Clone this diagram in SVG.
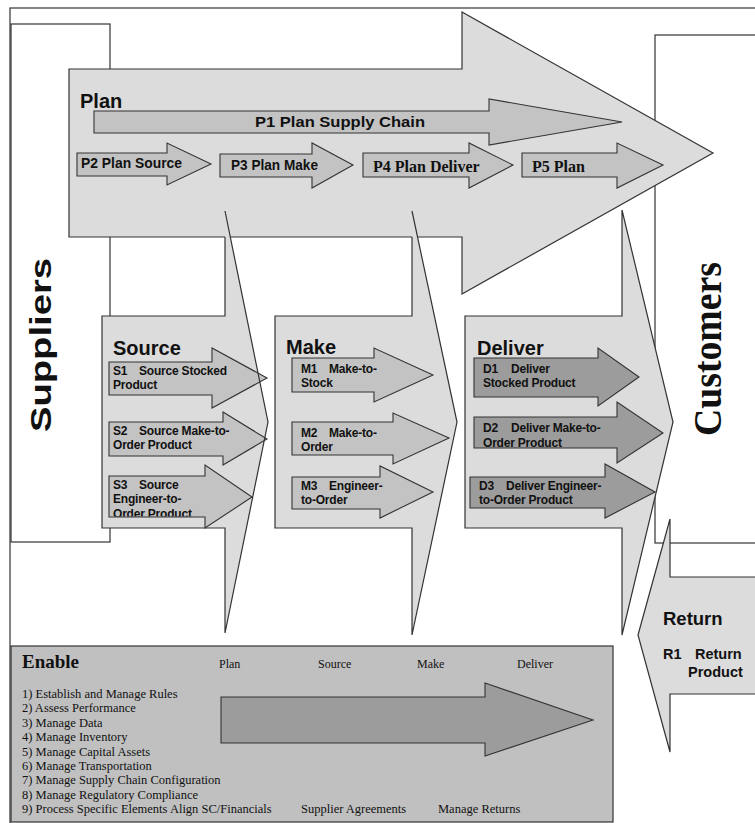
<svg xmlns="http://www.w3.org/2000/svg" width="755" height="823" viewBox="0 0 755 823">
<style>
.ln{fill:none;stroke:#333;stroke-width:1.2}
.bx{fill:#fff;stroke:#333;stroke-width:1.2}
.big{fill:#dcdcdc;stroke:#333;stroke-width:1.2}
.bf{fill:#dcdcdc;stroke:none}
.pa{fill:#c3c3c3;stroke:#333;stroke-width:1.1}
.da{fill:#9c9c9c;stroke:#333;stroke-width:1.1}
.en{fill:#c0c0c0;stroke:#333;stroke-width:1.2}
.sb{font-family:"Liberation Sans",Arial,sans-serif;font-weight:bold;fill:#111}
.sr{font-family:"Liberation Serif","Times New Roman",serif;fill:#111}
.h{font-size:20px}
.t{font-size:12px;letter-spacing:-0.2px}
.p{font-size:14px}
.el{font-size:12.5px}
</style>
<defs>
<clipPath id="cS3"><rect x="109" y="470" width="150" height="46.5"/></clipPath>
<clipPath id="cD2"><rect x="474" y="410" width="200" height="37.5"/></clipPath>
</defs>
<rect x="10" y="8" width="800" height="900" fill="#fff" stroke="#333" stroke-width="1.2"/>

<g id="suppliers">
<rect class="bx" x="11" y="24" width="99" height="518"/>
<text class="sb" font-size="29" text-anchor="middle" textLength="174" lengthAdjust="spacingAndGlyphs" transform="translate(51,345) rotate(-90)">Suppliers</text>
</g>

<g id="customers">
<rect class="bx" x="655" y="35" width="120" height="508"/>
<text class="sr" font-weight="bold" font-size="40" text-anchor="middle" textLength="174" lengthAdjust="spacingAndGlyphs" transform="translate(721,349) rotate(-90)">Customers</text>
</g>

<g id="return">
<path class="big" d="M638,635 L670,519 V577 H780 V694 H670 V752 Z"/>
<text class="sb" x="663" y="625" font-size="18.5">Return</text>
<text class="sb" font-size="14.5" y="659"><tspan x="663">R1</tspan><tspan x="695">Return</tspan></text>
<text class="sb" font-size="14.5" x="688" y="677">Product</text>
</g>

<g id="plan">
<path class="big" d="M69,69 H462 V12 L713,153 L462,294 V237 H69 Z"/>
<text class="sb h" x="80" y="108">Plan</text>
<path class="pa" d="M94,111 H489 V99 L622,122 L489,145 V133 H94 Z"/>
<text class="sb" font-size="14.5" x="255" y="127" textLength="170" lengthAdjust="spacingAndGlyphs">P1 Plan Supply Chain</text>
<path class="pa" d="M77,153 H167 V143 L211,164 L167,185 V176 H77 Z"/>
<text class="sb p" x="81" y="168" textLength="101" lengthAdjust="spacingAndGlyphs">P2 Plan Source</text>
<path class="pa" d="M220,154 H312 V143 L353,165 L312,188 V177 H220 Z"/>
<text class="sb p" x="231" y="170" textLength="87" lengthAdjust="spacingAndGlyphs">P3 Plan Make</text>
<path class="pa" d="M363,153 H469 V143 L513,165 L469,188 V177 H363 Z"/>
<text class="sr" font-weight="bold" font-size="16" x="373" y="172">P4 Plan Deliver</text>
<path class="pa" d="M522,153 H617 V143 L663,165 L617,188 V177 H522 Z"/>
<text class="sr" font-weight="bold" font-size="16" x="532" y="172">P5 Plan</text>
</g>

<g id="source">
<path class="bf" d="M225,211 L268,422 L225,633 V528 H102 V316 H225 Z"/>
<text class="sb h" x="113" y="355">Source</text>
<path class="pa" d="M109,362 H212 V348 L267,378 L212,408 V395 H109 Z"/>
<text class="sb t" y="375"><tspan x="113">S1</tspan><tspan x="139">Source Stocked</tspan></text>
<text class="sb t" x="113" y="389">Product</text>
<path class="pa" d="M109,422 H223 V412 L267,439 L223,465 V456 H109 Z"/>
<text class="sb t" y="435"><tspan x="113">S2</tspan><tspan x="139">Source Make-to-</tspan></text>
<text class="sb t" x="113" y="449">Order Product</text>
<path class="pa" d="M109,476 H205 V465 L252,497 L205,528 V517 H109 Z"/>
<text class="sb t" y="489"><tspan x="113">S3</tspan><tspan x="139">Source</tspan></text>
<text class="sb t" x="113" y="503">Engineer-to-</text>
<text class="sb t" x="113" y="518" clip-path="url(#cS3)">Order Product</text>
<path class="ln" d="M225,237 V316 H102 V528 H225 V633 L268,422 L225,211"/>
</g>

<g id="make">
<path class="bf" d="M412,211 L457,422 L412,635 V528 H275 V316 H412 Z"/>
<text class="sb h" x="286" y="354">Make</text>
<path class="pa" d="M292,358 H374 V348 L433,375 L374,402 V392 H292 Z"/>
<text class="sb t" y="373"><tspan x="301">M1</tspan><tspan x="329">Make-to-</tspan></text>
<text class="sb t" x="301" y="387">Stock</text>
<path class="pa" d="M292,422 H393 V413 L449,438 L393,464 V455 H292 Z"/>
<text class="sb t" y="437"><tspan x="301">M2</tspan><tspan x="329">Make-to-</tspan></text>
<text class="sb t" x="301" y="451">Order</text>
<path class="pa" d="M292,477 H380 V466 L433,492 L380,518 V509 H292 Z"/>
<text class="sb t" y="490"><tspan x="301">M3</tspan><tspan x="329">Engineer-</tspan></text>
<text class="sb t" x="301" y="504">to-Order</text>
<path class="ln" d="M412,237 V316 H275 V528 H412 V635 L457,422 L412,211"/>
</g>

<g id="deliver">
<path class="bf" d="M622,210 L673,422 L622,635 V528 H465 V316 H622 Z"/>
<text class="sb h" x="477" y="355">Deliver</text>
<path class="da" d="M474,358 H598 V348 L639,377 L598,406 V397 H474 Z"/>
<text class="sb t" y="373"><tspan x="483">D1</tspan><tspan x="511">Deliver</tspan></text>
<text class="sb t" x="483" y="387">Stocked Product</text>
<path class="da" d="M474,417 H617 V402 L663,433 L617,463 V448 H474 Z"/>
<text class="sb t" y="432"><tspan x="483">D2</tspan><tspan x="511">Deliver Make-to-</tspan></text>
<text class="sb t" x="483" y="447" clip-path="url(#cD2)">Order Product</text>
<path class="da" d="M470,477 H605 V464 L655,492 L605,518 V508 H470 Z"/>
<text class="sb t" y="490"><tspan x="479">D3</tspan><tspan x="506">Deliver Engineer-</tspan></text>
<text class="sb t" x="479" y="504">to-Order Product</text>
<path class="ln" d="M622,210 V316 H465 V528 H622 V635 L673,422 L622,210"/>
</g>

<g id="enable">
<rect class="en" x="11" y="646" width="602" height="176"/>
<text class="sr" font-weight="bold" font-size="19" x="22" y="668">Enable</text>
<text class="sr" font-size="12" y="668"><tspan x="219">Plan</tspan><tspan x="318">Source</tspan><tspan x="417">Make</tspan><tspan x="517">Deliver</tspan></text>
<path class="da" d="M221,697 H485 V683 L593,720 L485,756 V743 H221 Z"/>
<g class="sr el">
<text x="22" y="698">1) Establish and Manage Rules</text>
<text x="22" y="712">2) Assess Performance</text>
<text x="22" y="727">3) Manage Data</text>
<text x="22" y="741">4) Manage Inventory</text>
<text x="22" y="756">5) Manage Capital Assets</text>
<text x="22" y="770">6) Manage Transportation</text>
<text x="22" y="784">7) Manage Supply Chain Configuration</text>
<text x="22" y="799">8) Manage Regulatory Compliance</text>
<text x="22" y="813">9) Process Specific Elements  Align SC/Financials</text>
<text x="301" y="813">Supplier Agreements</text>
<text x="438" y="813">Manage Returns</text>
</g>
</g>
</svg>
